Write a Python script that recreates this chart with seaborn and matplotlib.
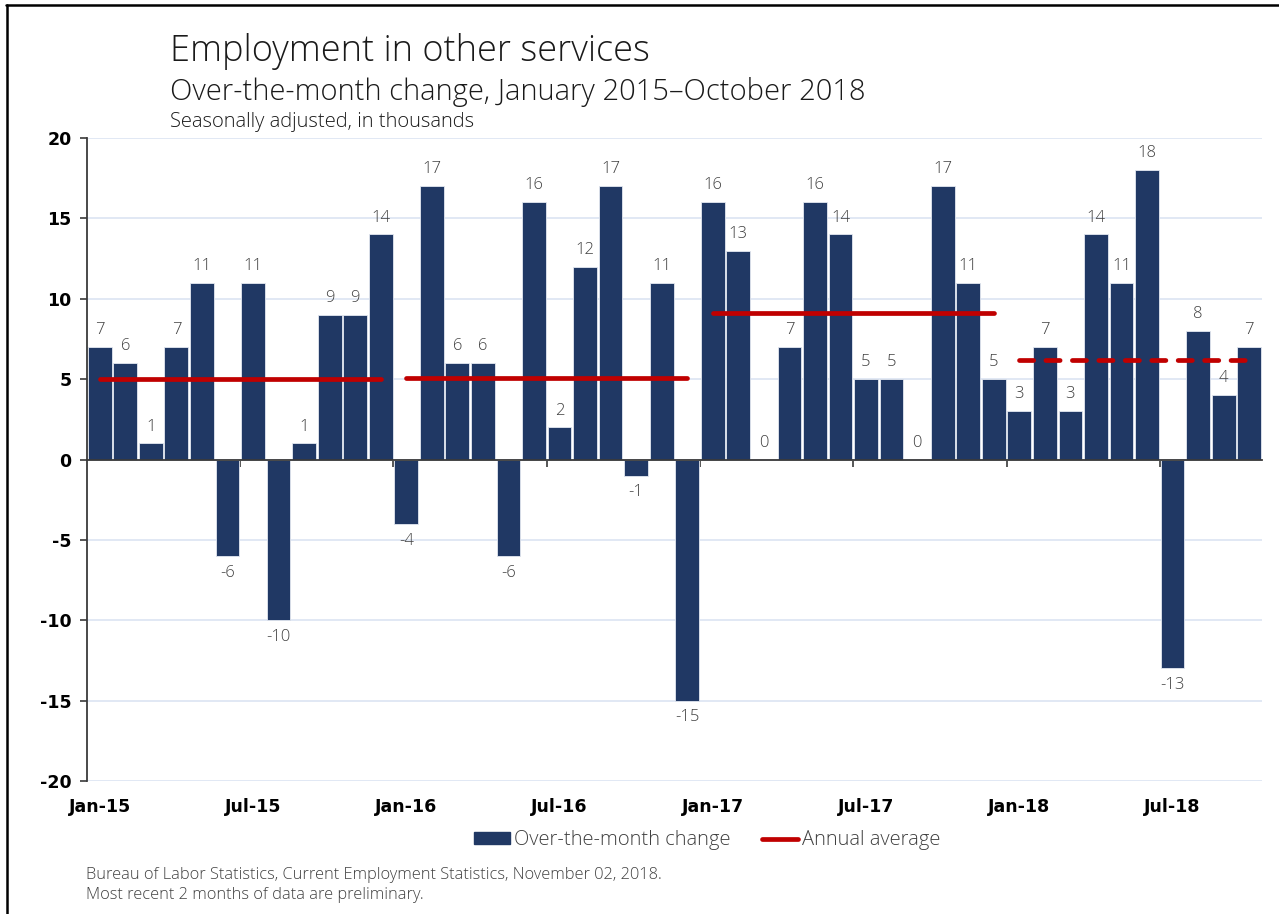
import matplotlib
matplotlib.use("Agg")
import matplotlib.pyplot as plt
import numpy as np
import pandas as pd
import seaborn as sns
from matplotlib.lines import Line2D
from matplotlib.patches import Patch

# Over-the-month change in other services employment, thousands
changes_2015 = [7, 6, 1, 7, 11, -6, 11, -10, 1, 9, 9, 14]
changes_2016 = [-4, 17, 6, 6, -6, 16, 2, 12, 17, -1, 11, -15]
changes_2017 = [16, 13, 0, 7, 16, 14, 5, 5, 0, 17, 11, 5]
changes_2018 = [3, 7, 3, 14, 11, 18, -13, 8, 4, 7]
years = [2015, 2016, 2017, 2018]
annual_average = [5.0, 5.1, 9.1, 6.2]
tick_labels = ["Jan-15", "Jul-15", "Jan-16", "Jul-16",
               "Jan-17", "Jul-17", "Jan-18", "Jul-18"]
y_ticks = [-20, -15, -10, -5, 0, 5, 10, 15, 20]

NAVY = "#203864"
RED = "#C00000"
GRID = "#DCE4F2"
TEXT = "#404040"
LIGHT = "Open Sans"

series = [changes_2015, changes_2016, changes_2017, changes_2018]
months = pd.date_range("2015-01-01", periods=sum(len(s) for s in series), freq="MS")
df = pd.DataFrame({
    "month": months.strftime("%b-%y"),
    "year": months.year,
    "change": [v for s in series for v in s],
})
df["pos"] = np.arange(len(df))

sns.set_theme(style="white")
plt.rcParams["font.family"] = ["DejaVu Sans"]

fig = plt.figure(figsize=(12.79, 9.14), dpi=100)
ax = fig.add_axes([0.068, 0.1455, 0.9187, 0.7035])

sns.barplot(data=df, x="month", y="change", color=NAVY, saturation=1,
            width=0.93, edgecolor="#E3E8F1", linewidth=0.6, ax=ax)

ax.set_xlim(-0.5, len(df) - 0.5)
ax.set_ylim(-20, 20)
ax.set_yticks(y_ticks)
ax.set_yticklabels([str(t) for t in y_ticks], fontsize=12.5, fontweight="bold",
                   color="black")
ax.yaxis.grid(True, color=GRID, linewidth=1.2)
ax.set_axisbelow(True)
ax.set_xlabel("")
ax.set_ylabel("")

for side in ("top", "right"):
    ax.spines[side].set_visible(False)
ax.spines["left"].set_color("#3a3a3a")
ax.spines["left"].set_linewidth(1.3)
ax.spines["bottom"].set_position(("data", 0))
ax.spines["bottom"].set_color("#3a3a3a")
ax.spines["bottom"].set_linewidth(1.3)
ax.tick_params(axis="y", direction="out", length=5, width=1.2, color="#3a3a3a",
               pad=6, left=True)

# half-year boundary ticks on the zero line
first_idx = [df.index[df["month"] == lab][0] for lab in tick_labels]
ax.set_xticks([i - 0.5 for i in first_idx[1:]])
ax.set_xticklabels([])
ax.tick_params(axis="x", direction="out", length=5, width=1.2, color="#3a3a3a",
               bottom=True)

# category labels along the bottom of the plot
sec = ax.secondary_xaxis("bottom")
sec.set_xticks(first_idx)
sec.set_xticklabels(tick_labels, fontsize=12.5, fontweight="bold", color="black")
sec.tick_params(length=0, pad=12)
sec.spines["bottom"].set_visible(False)

# value labels
for pos, val in zip(df["pos"], df["change"]):
    if val >= 0:
        ax.text(pos, val + 0.55, f"{val}", ha="center", va="bottom",
                fontsize=12, color=TEXT, family=LIGHT, fontweight="light")
    else:
        ax.text(pos, val - 0.55, f"{val}", ha="center", va="top",
                fontsize=12, color=TEXT, family=LIGHT, fontweight="light")

# annual average lines, current year dashed
for yr, avg in zip(years, annual_average):
    idx = df.index[df["year"] == yr]
    xs = [idx.min(), idx.max()]
    if yr == years[-1]:
        ax.plot(xs, [avg, avg], color=RED, linewidth=3.4, linestyle=(0, (3.0, 2.6)),
                dash_capstyle="round", zorder=4)
    else:
        ax.plot(xs, [avg, avg], color=RED, linewidth=3.4, solid_capstyle="round",
                zorder=4)

# titles
fig.text(0.133, 0.933, "Employment in other services", fontsize=26,
         family=LIGHT, fontweight="light", color="#1a1a1a", va="baseline")
fig.text(0.133, 0.891, "Over-the-month change, January 2015\u2013October 2018",
         fontsize=21, family=LIGHT, fontweight="light", color="#1a1a1a",
         va="baseline")
fig.text(0.133, 0.861, "Seasonally adjusted, in thousands", fontsize=14.5,
         family=LIGHT, fontweight="light", color="#1a1a1a", va="baseline")

# legend
handles = [Patch(facecolor=NAVY, edgecolor=NAVY),
           Line2D([0], [0], color=RED, linewidth=3.4, solid_capstyle="round")]
leg = fig.legend(handles, ["Over-the-month change", "Annual average"],
                 loc="center", bbox_to_anchor=(0.553, 0.081), ncol=2, frameon=False,
                 handlelength=1.75, handleheight=0.5, handletextpad=0.2,
                 columnspacing=1.6, prop={"family": LIGHT, "weight": "light",
                                          "size": 14.5})
for t in leg.get_texts():
    t.set_color(TEXT)

# source note
fig.text(0.0675, 0.0385, "Bureau of Labor Statistics, Current Employment Statistics, "
         "November 02, 2018.", fontsize=11.8, family=LIGHT, fontweight="light",
         color=TEXT, va="baseline")
fig.text(0.0675, 0.0165, "Most recent 2 months of data are preliminary.",
         fontsize=11.8, family=LIGHT, fontweight="light", color=TEXT, va="baseline")

# frame along the top and left edges
fig.add_artist(Line2D([0.0055, 0.0055], [0, 0.9945], transform=fig.transFigure,
                      color="black", linewidth=1.8))
fig.add_artist(Line2D([0.0047, 1.0], [0.9945, 0.9945], transform=fig.transFigure,
                      color="black", linewidth=1.8))

fig.savefig("out.png", dpi=100)
